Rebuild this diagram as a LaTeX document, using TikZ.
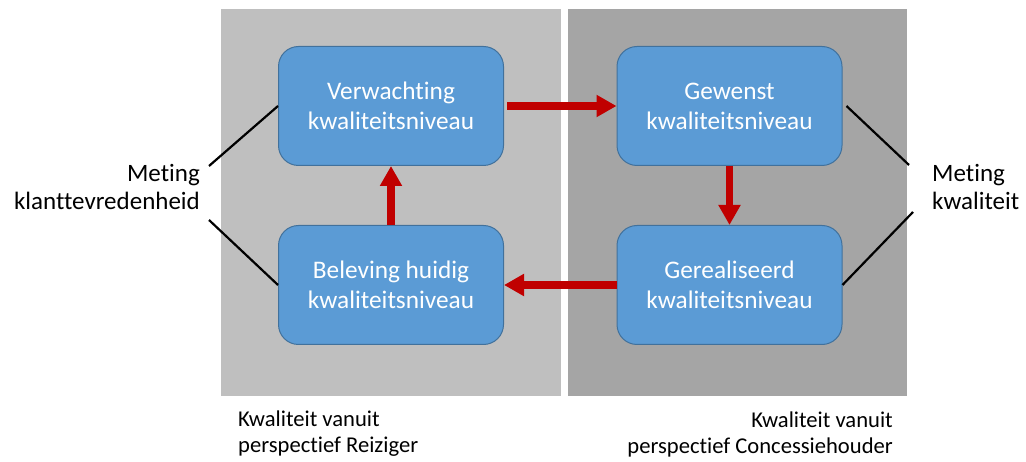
\documentclass[tikz,border=0pt]{standalone}
\usepackage{fontspec}
\setmainfont{Carlito}[RawFeature={-liga;-clig;-calt;-dlig}]
\usetikzlibrary{arrows.meta}
\definecolor{panelL}{HTML}{BFBFBF}
\definecolor{panelR}{HTML}{A5A5A5}
\definecolor{boxfill}{HTML}{5B9BD5}
\definecolor{boxedge}{HTML}{41719C}
\definecolor{arrowred}{HTML}{C00000}
\tikzset{
  stagebox/.style={draw=boxedge, fill=boxfill, line width=1pt, rounded corners=20pt,
    minimum width=225pt, minimum height=119pt, inner sep=0pt, text=white, align=center,
    font=\fontsize{25.3}{30}\selectfont},
  flowarrow/.style={draw=arrowred, line width=7.5pt, -{Triangle[width=21pt,length=20pt]}},
  measureline/.style={draw=black, line width=2.2pt},
  sidelabel/.style={text=black, font=\fontsize{25}{28.5}\selectfont, inner sep=0pt},
  footlabel/.style={text=black, font=\fontsize{22.6}{26}\selectfont, inner sep=0pt}
}
\begin{document}
\begin{tikzpicture}[x=1pt,y=-1pt]
\useasboundingbox (0,0) rectangle (1026,462);
\fill[white] (0,0) rectangle (1026,462);
% panels
\fill[panelL] (221,9) rectangle (561,396);
\fill[panelR] (568,9) rectangle (907,396);
% boxes
\node[stagebox] (vk) at (391,106) {Verwachting\\kwaliteitsniveau};
\node[stagebox] (gk) at (729.5,106) {Gewenst\\kwaliteitsniveau};
\node[stagebox] (bl) at (391,285) {Beleving huidig\\kwaliteitsniveau};
\node[stagebox] (gr) at (729.5,285) {Gerealiseerd\\kwaliteitsniveau};
% arrows
\draw[flowarrow] ([xshift=3pt]vk.east) -- (gk.west);
\draw[flowarrow] (gk.south) -- (gr.north);
\draw[flowarrow] (gr.west) -- (bl.east);
\draw[flowarrow] (bl.north) -- (vk.south);
% measurement lines
\coordinate (lt) at (209,166);
\coordinate (lb) at (209,220);
\coordinate (rt) at (909,165);
\coordinate (rb) at (913,212);
\draw[measureline] (vk.west) -- (lt);
\draw[measureline] (lb) -- (bl.west);
\draw[measureline] ([xshift=4pt]gk.east) -- (rt);
\draw[measureline] (gr.east) -- (rb);
% labels
\node[sidelabel, anchor=east, align=right] (lblL) at (200,187) {Meting\\klanttevredenheid};
\node[sidelabel, anchor=west, align=left] (lblR) at (932,187) {Meting\\kwaliteit};
\node[footlabel, anchor=west, align=left] (ftL) at (238,434) {Kwaliteit vanuit\\perspectief Reiziger};
\node[footlabel, anchor=east, align=right] (ftR) at (893,434) {Kwaliteit vanuit\\perspectief Concessiehouder};
\end{tikzpicture}
\end{document}
